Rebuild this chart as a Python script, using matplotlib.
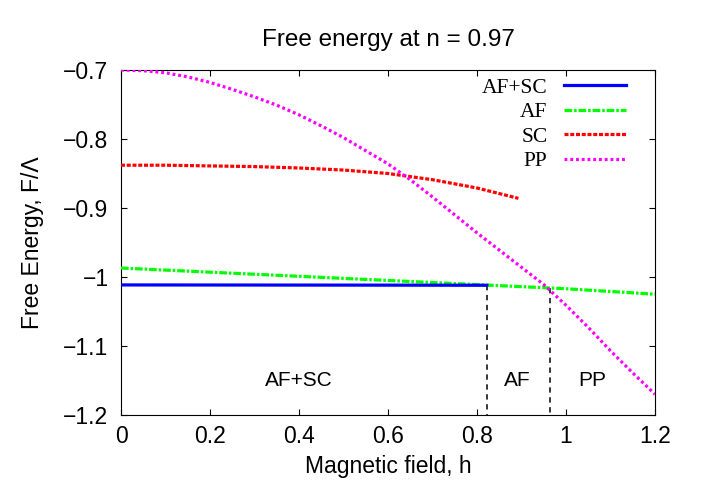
import matplotlib
matplotlib.use('Agg')
import matplotlib.pyplot as plt

# data
h_afsc = [0.0, 0.2, 0.4, 0.6, 0.822]
F_afsc = [-1.0115, -1.0116, -1.0117, -1.0118, -1.012]

h_af = [0.0, 0.1, 0.2, 0.3, 0.4, 0.5, 0.6, 0.7, 0.8, 0.9, 1.0, 1.1, 1.2]
F_af = [-0.987, -0.990, -0.993, -0.996, -0.999, -1.002, -1.005, -1.008,
        -1.011, -1.014, -1.017, -1.021, -1.025]

h_sc = [0.0, 0.1, 0.2, 0.3, 0.4, 0.5, 0.6, 0.7, 0.8, 0.893]
F_sc = [-0.838, -0.838, -0.839, -0.840, -0.842, -0.845, -0.850, -0.859,
        -0.871, -0.886]

h_pp = [0.0, 0.05, 0.1, 0.15, 0.2, 0.25, 0.3, 0.35, 0.4, 0.45, 0.5, 0.55,
        0.6, 0.65, 0.7, 0.75, 0.8, 0.85, 0.9, 0.95, 1.0, 1.05, 1.1, 1.15, 1.2]
F_pp = [-0.700, -0.701, -0.704, -0.710, -0.718, -0.728, -0.739, -0.751,
        -0.765, -0.781, -0.798, -0.817, -0.836, -0.859, -0.884, -0.910,
        -0.936, -0.961, -0.986, -1.011, -1.041, -1.073, -1.107, -1.139, -1.170]

# phase boundaries (dashed lines) and region labels
h_bound = [0.822, 0.964]
F_bound = [-1.012, -1.016]
regions = ['AF+SC', 'AF', 'PP']
region_h = [0.40, 0.89, 1.06]
region_F = -1.15

xticks = [0, 0.2, 0.4, 0.6, 0.8, 1, 1.2]
xticklabels = ['0', '0.2', '0.4', '0.6', '0.8', '1', '1.2']
yticks = [-0.7, -0.8, -0.9, -1.0, -1.1, -1.2]
yticklabels = ['\u22120.7', '\u22120.8', '\u22120.9', '\u22121', '\u22121.1', '\u22121.2']

plt.rcParams['font.family'] = ['Liberation Sans', 'DejaVu Sans']

fig = plt.figure(figsize=(7.01, 4.91), dpi=100)
ax = fig.add_axes([121 / 701, 76 / 491, 534 / 701, 345 / 491])

lw = 2.3
ax.plot(h_afsc, F_afsc, color='#0000ff', lw=lw, label='AF+SC', zorder=4)
ax.plot(h_af, F_af, color='#00ff00', lw=lw, dashes=(2.4, 0.6, 0.8, 0.6), label='AF', zorder=3)
ax.plot(h_sc, F_sc, color='#ff0000', lw=lw, dashes=(1.25, 0.55), label='SC', zorder=3)
ax.plot(h_pp, F_pp, color='#ff00ff', lw=lw, dashes=(0.9, 0.9), label='PP', zorder=3)

for hb, fb in zip(h_bound, F_bound):
    ax.plot([hb, hb], [fb, -1.2], color='black', lw=1.1, dashes=(3.5, 3), zorder=2)

for name, x in zip(regions, region_h):
    ax.text(x, region_F, name, ha='center', va='center', fontsize=15)

ax.set_xlim(0, 1.2)
ax.set_ylim(-1.2, -0.7)
ax.set_xticks(xticks)
ax.set_xticklabels(xticklabels)
ax.set_yticks(yticks)
ax.set_yticklabels(yticklabels)
ax.tick_params(direction='in', length=4.5, width=0.8, labelsize=16.5,
               top=True, right=True, pad=9)
ax.tick_params(axis='x', pad=7)
for s in ax.spines.values():
    s.set_linewidth(0.8)

ax.set_xlabel('Magnetic field, h', fontsize=16.5, labelpad=5)
ax.set_ylabel('Free Energy, F/\u039b', fontsize=16.5, labelpad=14)
ax.set_title('Free energy at n = 0.97', fontsize=17.5, pad=17)

leg = ax.legend(loc='upper right', bbox_to_anchor=(0.946, 0.977), frameon=False,
                markerfirst=False, handlelength=2.9, handletextpad=0.75,
                labelspacing=0.2, borderpad=0, borderaxespad=0,
                prop={'family': 'Liberation Serif', 'size': 15.5})

plt.savefig('out.png', dpi=100)
